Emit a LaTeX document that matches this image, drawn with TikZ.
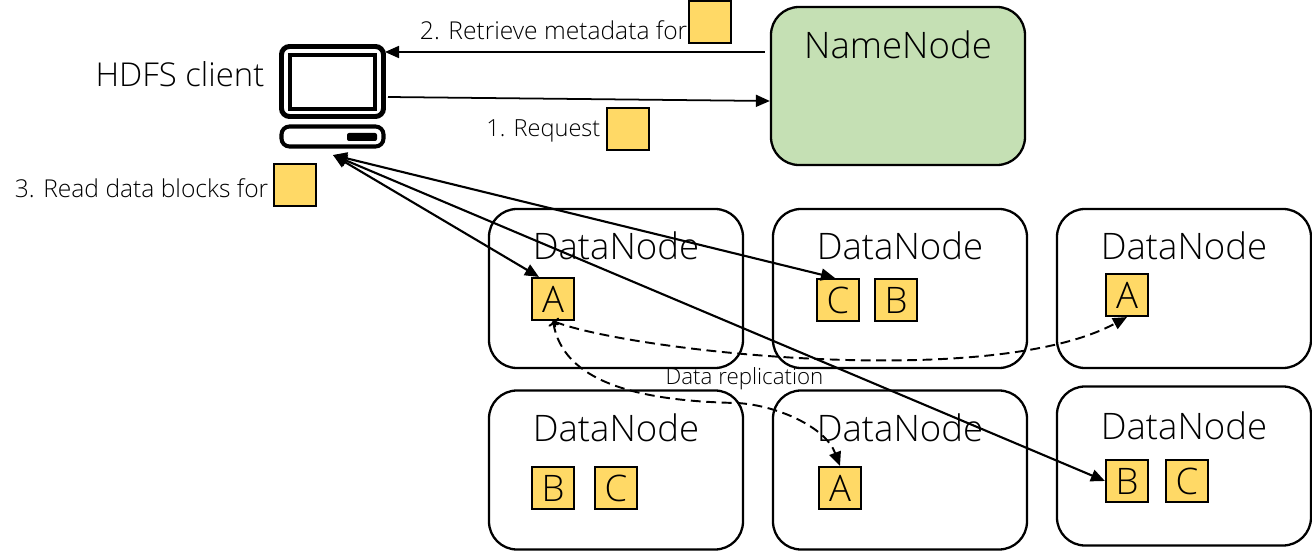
\documentclass[tikz,border=0pt]{standalone}
\usepackage{fontspec}
\setmainfont{Open Sans Light}
\usetikzlibrary{arrows.meta,calc}
\definecolor{namegreen}{HTML}{C5E0B4}
\definecolor{blockyellow}{HTML}{FFD966}
\tikzset{
         datanode/.style={draw,line width=.65pt,rounded corners=.28cm,minimum width=2.54cm,minimum height=1.59cm},
         namenode/.style={datanode,fill=namegreen,minimum height=1.58cm},
         block/.style={draw,line width=.6pt,fill=blockyellow,minimum width=.42cm,minimum height=.42cm,inner sep=0pt,font=\fontsize{10.4}{12}\selectfont},
         title/.style={inner sep=0pt,font=\fontsize{10.4}{12}\selectfont},
         clientlabel/.style={inner sep=0pt,font=\fontsize{9.35}{11}\selectfont},
         label/.style={inner sep=0pt,font=\fontsize{7}{9}\selectfont},
         link/.style={line width=.6pt,{Triangle[length=.14cm,width=.12cm]}-{Triangle[length=.14cm,width=.12cm]}},
         oneway/.style={line width=.5pt,-{Triangle[length=.14cm,width=.12cm]}},
         replica/.style={line width=.55pt,dash pattern=on 2.8pt off 1.6pt,{To[length=.05cm]}-{Triangle[length=.14cm,width=.12cm]}}
        }
\begin{document}
\begin{tikzpicture}
\useasboundingbox(0,0)rectangle(13.12,5.51);

%boxes
\node[namenode](name)at(8.98,4.65){};
\node[datanode](dnA)at(6.16,2.625){};
\node[datanode](dnB)at(9.00,2.625){};
\node[datanode](dnC)at(11.84,2.625){};
\node[datanode](dnD)at(6.16,.81){};
\node[datanode](dnE)at(9.00,.81){};
\node[datanode](dnF)at(11.84,.85){};

%box titles
\node[title](nameT)at(8.98,5.06){NameNode};
\node[title](dnAT)at(6.16,3.05){DataNode};
\node[title](dnBT)at(9.00,3.05){DataNode};
\node[title](dnCT)at(11.84,3.05){DataNode};
\node[title](dnDT)at(6.16,1.23){DataNode};
\node[title](dnET)at(9.00,1.23){DataNode};
\node[title](dnFT)at(11.84,1.25){DataNode};

%blocks
\node[block](aOne)at(5.53,2.52){A};
\node[block](cOne)at(8.38,2.51){C};
\node[block](bOne)at(8.96,2.51){B};
\node[block](aTwo)at(11.27,2.56){A};
\node[block](bTwo)at(5.53,.63){B};
\node[block](cTwo)at(6.16,.63){C};
\node[block](aThree)at(8.40,.63){A};
\node[block](bThree)at(11.27,.70){B};
\node[block](cThree)at(11.87,.70){C};
\node[block](keyMeta)at(7.10,5.29){};
\node[block](keyRequest)at(6.28,4.22){};
\node[block](keyRead)at(2.95,3.66){};

%labels
\node[clientlabel,anchor=east](clientT)at(2.65,4.77){HDFS client};
\node[label,anchor=east](metaT)at(6.88,5.21){2. Retrieve metadata for};
\node[label,anchor=east,font=\fontsize{6.7}{9}\selectfont](requestT)at(6.01,4.20){1. Request};
\node[label,anchor=east](readT)at(2.69,3.63){3. Read data blocks for};
\node[label,font=\fontsize{6.35}{9}\selectfont](replicaT)at(7.445,1.72){Data replication};

%client
\draw[line width=1.4pt,rounded corners=.08cm](2.815,4.345)rectangle(3.835,5.045);
\draw[line width=1.15pt](2.90,4.42)rectangle(3.75,4.96);
\draw[line width=1.15pt,rounded corners=.08cm](2.815,4.045)rectangle(3.835,4.245);
\fill[rounded corners=.02cm](3.47,4.10)rectangle(3.77,4.18);

%connectors
\coordinate(clientIn)at(3.85,4.99);
\coordinate(clientOut)at(3.88,4.54);
\coordinate(clientBase)at(3.33,3.96);
\draw[oneway]([xshift=-.05cm]name.west|-clientIn)--(clientIn);
\draw[oneway](clientOut)--(name.west|-0,4.50);
\draw[link](clientBase)--($(aOne.north west)+(.08,0)$);
\draw[link](clientBase)--($(cOne.north west)+(.19,0)$);
\draw[link](clientBase)--(bThree.west);

%replication
\draw[replica](aOne.south)..controls(6.3,2.0)and(9.9,1.6)..(aTwo.south);
\draw[replica](aOne.south)..controls(5.63,1.7)and(6.35,1.5)..(7.37,1.48)..controls(7.75,1.46)and(8.25,1.25)..(aThree.north);

\end{tikzpicture}
\end{document}
